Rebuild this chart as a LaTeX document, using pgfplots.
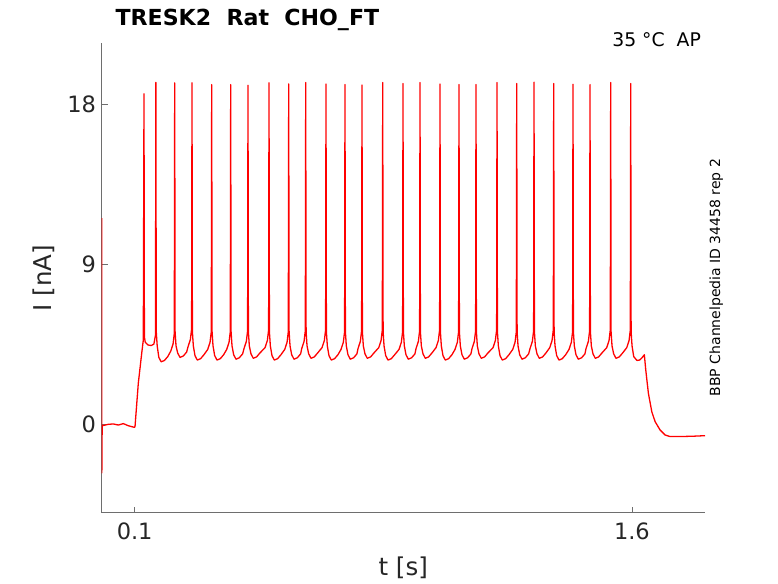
\documentclass[border=0pt]{standalone}
\usepackage{fontspec}
\setmainfont{DejaVu Sans}
\usepackage{pgfplots}
\pgfplotsset{compat=1.18}
\definecolor{axgray}{RGB}{38,38,38}
\definecolor{linegray}{RGB}{110,110,110}
\begin{document}
\begin{tikzpicture}
\useasboundingbox (0,0) rectangle (778pt,583pt);
\begin{axis}[
  at={(101.5pt,70.3pt)}, anchor=south west,
  scale only axis, width=603.5pt, height=469.4pt,
  xmin=0, xmax=1.8205, ymin=-5, ymax=21.45,
  clip mode=individual,
  axis lines*=left,
  axis line style={-, draw=linegray, line width=0.7pt},
  xtick={0.1,1.6}, xticklabels={0.1,1.6},
  ytick={0,9,18},
  tick align=inside, major tick length=6pt,
  tick style={draw=linegray, line width=0.7pt},
  /pgf/number format/assume math mode=true,
  ticklabel style={font=\fontsize{22.5}{24}\selectfont, text=axgray},
  xticklabel style={yshift=-7pt},
  yticklabel style={xshift=-2pt},
  xlabel={t [s]}, ylabel={I [nA]},
  xlabel style={at={(axis description cs:0.5,-0.134)}, anchor=base, font=\fontsize{24.5}{28}\selectfont, text=axgray},
  ylabel style={at={(axis description cs:-0.0825,0.5)}, anchor=base, font=\fontsize{24.5}{28}\selectfont, text=axgray},
  every axis title shift=0pt,
  title={TRESK2\ \ Rat\ \ CHO\_FT},
  title style={at={(axis description cs:0.0175,1.0369)}, anchor=base west, yshift=0pt, font=\bfseries\fontsize{22.1}{26}\selectfont},
]
\addplot[color=red, line width=1.3pt, line join=round] coordinates {
(0.0005,11.6)(0.0010,-2.75)(0.0020,-0.1)(0.0206,-0.02)(0.0357,0.0)(0.0508,-0.06)(0.0658,0.02)(0.0809,-0.1)(0.0990,-0.19)(0.1011,-0.15)(0.1110,2.29)(0.1213,3.98)(0.1261,4.73)
(0.1282,18.6)(0.1294,4.9)(0.1320,4.6)(0.1400,4.45)(0.1500,4.42)(0.1580,4.5)(0.1628,5.0)
(0.1640,19.25)
(0.1652,5.2)(0.1680,4.4)(0.1730,3.75)(0.1800,3.5)(0.1900,3.58)(0.2000,3.8)(0.2088,4.1)(0.2158,4.5)(0.2196,5.1)
(0.2208,19.22)
(0.2220,5.2)(0.2248,4.4)(0.2298,4.0)(0.2368,3.75)(0.2468,3.83)(0.2568,4.05)(0.2610,4.35)(0.2680,4.75)(0.2718,5.35)
(0.2730,19.22)
(0.2742,5.2)(0.2770,4.4)(0.2820,3.85)(0.2890,3.6)(0.2990,3.68)(0.3090,3.9)(0.3204,4.2)(0.3274,4.6)(0.3312,5.2)
(0.3324,19.12)
(0.3336,5.2)(0.3364,4.4)(0.3414,3.85)(0.3484,3.6)(0.3584,3.68)(0.3684,3.9)(0.3777,4.2)(0.3847,4.6)(0.3885,5.2)
(0.3897,19.12)
(0.3909,5.2)(0.3937,4.4)(0.3987,3.9)(0.4057,3.65)(0.4157,3.73)(0.4257,3.95)(0.4299,4.25)(0.4369,4.65)(0.4407,5.25)
(0.4419,19.09)
(0.4431,5.2)(0.4459,4.4)(0.4509,3.95)(0.4579,3.7)(0.4679,3.78)(0.4779,4.0)(0.4933,4.3)(0.5003,4.7)(0.5041,5.3)
(0.5053,19.22)
(0.5065,5.2)(0.5093,4.4)(0.5143,3.85)(0.5213,3.6)(0.5313,3.68)(0.5413,3.9)(0.5527,4.2)(0.5597,4.6)(0.5635,5.2)
(0.5647,19.16)
(0.5659,5.2)(0.5687,4.4)(0.5737,3.9)(0.5807,3.65)(0.5907,3.73)(0.6007,3.95)(0.6040,4.25)(0.6110,4.65)(0.6148,5.25)
(0.6160,19.24)
(0.6172,5.2)(0.6200,4.4)(0.6250,3.95)(0.6320,3.7)(0.6420,3.78)(0.6520,4.0)(0.6652,4.3)(0.6722,4.7)(0.6760,5.3)
(0.6772,19.16)
(0.6784,5.2)(0.6812,4.4)(0.6862,3.85)(0.6932,3.6)(0.7032,3.68)(0.7132,3.9)(0.7225,4.2)(0.7295,4.6)(0.7333,5.2)
(0.7345,19.12)
(0.7357,5.2)(0.7385,4.4)(0.7435,3.9)(0.7505,3.65)(0.7605,3.73)(0.7705,3.95)(0.7738,4.25)(0.7808,4.65)(0.7846,5.25)
(0.7858,19.10)
(0.7870,5.2)(0.7898,4.4)(0.7948,3.95)(0.8018,3.7)(0.8118,3.78)(0.8218,4.0)(0.8363,4.3)(0.8433,4.7)(0.8471,5.3)
(0.8483,19.24)
(0.8495,5.2)(0.8523,4.4)(0.8573,3.85)(0.8643,3.6)(0.8743,3.68)(0.8843,3.9)(0.8975,4.2)(0.9045,4.6)(0.9083,5.2)
(0.9095,19.18)
(0.9107,5.2)(0.9135,4.4)(0.9185,3.9)(0.9255,3.65)(0.9355,3.73)(0.9455,3.95)(0.9488,4.25)(0.9558,4.65)(0.9596,5.25)
(0.9608,19.24)
(0.9620,5.2)(0.9648,4.4)(0.9698,3.95)(0.9768,3.7)(0.9868,3.78)(0.9968,4.0)(1.0091,4.3)(1.0161,4.7)(1.0199,5.3)
(1.0211,19.16)
(1.0223,5.2)(1.0251,4.4)(1.0301,3.85)(1.0371,3.6)(1.0471,3.68)(1.0571,3.9)(1.0664,4.2)(1.0734,4.6)(1.0772,5.2)
(1.0784,19.12)
(1.0796,5.2)(1.0824,4.4)(1.0874,3.9)(1.0944,3.65)(1.1044,3.73)(1.1144,3.95)(1.1177,4.25)(1.1247,4.65)(1.1285,5.25)
(1.1297,19.12)
(1.1309,5.2)(1.1337,4.4)(1.1387,3.95)(1.1457,3.7)(1.1557,3.78)(1.1657,4.0)(1.1811,4.3)(1.1881,4.7)(1.1919,5.3)
(1.1931,19.24)
(1.1943,5.2)(1.1971,4.4)(1.2021,3.85)(1.2091,3.6)(1.2191,3.68)(1.2291,3.9)(1.2405,4.2)(1.2475,4.6)(1.2513,5.2)
(1.2525,19.18)
(1.2537,5.2)(1.2565,4.4)(1.2615,3.9)(1.2685,3.65)(1.2785,3.73)(1.2885,3.95)(1.2927,4.25)(1.2997,4.65)(1.3035,5.25)
(1.3047,19.26)
(1.3059,5.2)(1.3087,4.4)(1.3137,3.95)(1.3207,3.7)(1.3307,3.78)(1.3407,4.0)(1.3521,4.3)(1.3591,4.7)(1.3629,5.3)
(1.3641,19.18)
(1.3653,5.2)(1.3681,4.4)(1.3731,3.85)(1.3801,3.6)(1.3901,3.68)(1.4001,3.9)(1.4103,4.2)(1.4173,4.6)(1.4211,5.2)
(1.4223,19.14)
(1.4235,5.2)(1.4263,4.4)(1.4313,3.9)(1.4383,3.65)(1.4483,3.73)(1.4583,3.95)(1.4616,4.25)(1.4686,4.65)(1.4724,5.25)
(1.4736,19.12)
(1.4748,5.2)(1.4776,4.4)(1.4826,3.95)(1.4896,3.7)(1.4996,3.78)(1.5096,4.0)(1.5240,4.3)(1.5310,4.7)(1.5348,5.3)
(1.5360,19.24)
(1.5372,5.2)(1.5400,4.4)(1.5450,3.95)(1.5520,3.7)(1.5620,3.78)(1.5720,4.0)(1.5844,4.3)(1.5914,4.7)(1.5952,5.3)
(1.5964,19.18)
(1.5976,5.2)(1.6004,4.4)(1.6054,3.8)(1.6150,3.58)(1.6230,3.6)(1.6300,3.72)(1.6375,3.9)(1.6418,3.04)(1.6497,1.73)(1.6600,0.69)(1.6700,0.13)(1.6850,-0.34)(1.7000,-0.62)(1.7150,-0.71)(1.7450,-0.71)(1.7850,-0.69)(1.8205,-0.66)
};
\node[anchor=base east, font=\fontsize{18.8}{22}\selectfont, text=black] at (axis description cs:0.9990,0.9928) {35 °C\ \ AP};
\node[anchor=base, rotate=90, font=\fontsize{14.0}{17}\selectfont, text=black] at (axis description cs:1.0249,0.501) {BBP Channelpedia ID 34458 rep 2};
\end{axis}
\end{tikzpicture}
\end{document}
